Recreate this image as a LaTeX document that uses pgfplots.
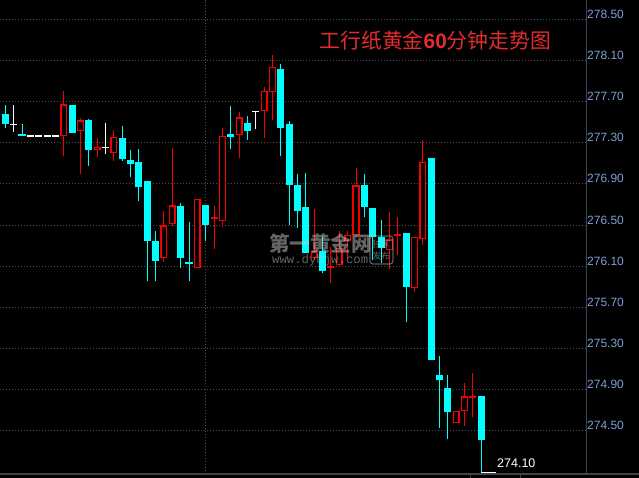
\documentclass[border=0pt]{standalone}
\usepackage{fontspec}
\setmainfont{Liberation Sans}
\newfontfamily\cjk{Noto Sans CJK SC}
\newfontfamily\mono{Liberation Mono}
\usepackage{pgfplots}
\usepackage{pgfplotstable}
\pgfplotsset{compat=1.18}
\definecolor{cred}{RGB}{245,0,0}
\definecolor{ccyan}{RGB}{0,255,255}
\definecolor{ticklab}{RGB}{125,160,215}
\definecolor{gridc}{RGB}{78,78,78}
\definecolor{axc}{RGB}{62,68,78}
\definecolor{titler}{RGB}{228,44,44}
\definecolor{wm}{RGB}{200,200,200}

% x = candle index, o h l c, t: 0 = up (red), 1 = down (cyan), 2 = unchanged (white)
\pgfplotstableread{
x o h l c t
0 277.489 277.541 277.489 277.541 0
1 277.580 277.667 277.447 277.485 1
2 277.480 277.667 277.408 277.480 2
3 277.388 277.483 277.366 277.366 1
4 277.366 277.366 277.366 277.366 2
5 277.366 277.366 277.366 277.366 2
6 277.366 277.366 277.366 277.366 2
7 277.366 277.366 277.366 277.366 2
8 277.369 277.803 277.175 277.667 0
9 277.667 277.667 277.398 277.398 1
10 277.417 277.541 277.000 277.512 0
11 277.521 277.531 277.074 277.230 1
12 277.237 277.347 277.162 277.256 0
13 277.256 277.492 277.194 277.256 2
14 277.208 277.424 277.126 277.353 0
15 277.347 277.463 277.126 277.145 1
16 277.136 277.230 276.970 277.097 1
17 277.113 277.240 276.737 276.873 1
18 276.929 276.929 275.960 276.348 1
19 276.346 276.443 275.960 276.154 1
20 276.183 276.637 276.144 276.491 0
21 276.518 277.249 276.491 276.686 0
22 276.686 276.712 276.086 276.183 1
23 276.141 276.530 275.960 276.122 1
24 276.090 276.751 276.090 276.751 0
25 276.695 276.695 276.348 276.504 1
26 276.570 276.686 276.271 276.574 0
27 276.543 277.444 276.485 277.363 0
28 277.385 277.657 277.242 277.356 1
29 277.379 277.599 277.155 277.541 0
30 277.492 277.560 277.330 277.417 1
31 277.606 277.606 277.434 277.606 2
32 277.612 277.842 277.349 277.800 0
33 277.796 278.153 277.524 278.034 0
34 278.017 278.066 277.175 277.447 1
35 277.483 277.512 276.504 276.893 1
36 276.890 276.997 276.475 276.640 1
37 276.676 277.006 276.232 276.232 1
38 276.187 276.657 276.161 276.239 0
39 276.248 276.394 276.032 276.057 1
40 276.094 276.290 275.940 276.098 0
41 276.119 276.443 276.096 276.275 0
42 276.352 276.443 276.180 276.401 0
43 276.411 277.055 276.381 276.880 0
44 276.893 276.997 276.582 276.679 1
45 276.666 276.666 276.161 276.387 1
46 276.381 276.550 276.135 276.275 1
47 276.265 276.627 276.071 276.355 0
48 276.399 276.576 276.212 276.403 0
49 276.423 276.423 275.561 275.901 1
50 275.896 276.381 275.853 276.381 0
51 276.372 277.327 276.307 277.110 0
52 277.152 277.152 275.192 275.192 1
53 275.043 275.228 274.531 274.998 1
54 274.917 275.043 274.421 274.687 1
55 274.580 274.691 274.580 274.691 0
56 274.700 274.963 274.551 274.830 0
57 274.826 275.060 274.632 274.828 0
58 274.839 274.839 274.100 274.415 1
}\candles

\begin{document}
\begin{tikzpicture}
\fill[black] (0,0) rectangle (639pt,478pt);
\useasboundingbox (0,0) rectangle (639pt,478pt);
\begin{axis}[at={(0,0)}, anchor=south west, scale only axis,
  width=639pt, height=478pt,
  xmin=0.3653, xmax=76.892, ymin=274.0423, ymax=278.6876,
  hide axis]

% horizontal dotted grid
\pgfplotsinvokeforeach{274.5,274.9,275.3,275.7,276.1,276.5,276.9,277.3,277.7,278.1,278.5}{
  \draw[gridc, line width=1pt, dash pattern=on 1pt off 2pt] (axis cs:0.3653,#1) -- (axis cs:70.545,#1);
}
% vertical dotted separator
\draw[gridc, line width=1pt, dash pattern=on 1pt off 2pt] (axis cs:24.95,274.0812) -- (axis cs:24.95,278.6876);

% candles
\pgfplotstablegetrowsof{\candles}
\pgfmathtruncatemacro{\lastrow}{\pgfplotsretval-1}
\pgfplotsforeachungrouped \i in {0,...,\lastrow}{%
  \pgfplotstablegetelem{\i}{x}\of\candles \let\cx\pgfplotsretval
  \pgfplotstablegetelem{\i}{o}\of\candles \let\co\pgfplotsretval
  \pgfplotstablegetelem{\i}{h}\of\candles \let\ch\pgfplotsretval
  \pgfplotstablegetelem{\i}{l}\of\candles \let\cl\pgfplotsretval
  \pgfplotstablegetelem{\i}{c}\of\candles \let\cc\pgfplotsretval
  \pgfplotstablegetelem{\i}{t}\of\candles \let\ct\pgfplotsretval
  \pgfmathsetmacro{\xa}{\cx-0.34}%
  \pgfmathsetmacro{\xb}{\cx+0.34}%
  \pgfmathsetmacro{\xc}{\cx-0.42}%
  \pgfmathsetmacro{\xd}{\cx+0.42}%
  \ifcase\ct\relax
    \edef\temp{\noexpand\addplot[draw=cred, line width=1pt] coordinates {(\cx,\cl) (\cx,\ch)};
      \noexpand\addplot[draw=cred, fill=black, line width=1.4pt] coordinates {(\xa,\co) (\xb,\co) (\xb,\cc) (\xa,\cc)} -- cycle;}%
  \or
    \edef\temp{\noexpand\addplot[draw=ccyan, line width=1pt] coordinates {(\cx,\cl) (\cx,\ch)};
      \noexpand\addplot[draw=none, fill=ccyan] coordinates {(\xc,\co) (\xd,\co) (\xd,\cc) (\xc,\cc)} -- cycle;}%
  \or
    \edef\temp{\noexpand\addplot[draw=white, line width=1pt] coordinates {(\cx,\cl) (\cx,\ch)};
      \noexpand\addplot[draw=white, line width=1.3pt] coordinates {(\xc,\co) (\xd,\co)};}%
  \fi
  \temp
}

% last-low marker
\addplot[draw=white, line width=1pt] coordinates {(58,274.100) (59.766,274.100)};
\node[anchor=base west, inner sep=0pt, text=white, font=\fontsize{12.5}{14}\selectfont] at (axis cs:59.886,274.1395) {274.10};

% right axis and bottom frame
\draw[axc, line width=1pt] (axis cs:70.545,274.0812) -- (axis cs:70.545,278.6876);
\draw[axc, line width=1.2pt] (axis cs:0.3653,274.0812) -- (axis cs:76.892,274.0812);
\draw[axc, line width=1pt] (axis cs:56.652,274.0812) -- (axis cs:56.652,274.0423);
\draw[axc, line width=1pt] (axis cs:62.64,274.0812) -- (axis cs:62.64,274.0423);

% tick labels
\foreach \v/\t in {274.5/274.50,274.9/274.90,275.3/275.30,275.7/275.70,276.1/276.10,276.5/276.50,276.9/276.90,277.3/277.30,277.7/277.70,278.1/278.10,278.5/278.50}{
  \edef\temp{\noexpand\node[anchor=base west, inner sep=0pt, text=ticklab, font=\noexpand\fontsize{12}{14}\noexpand\selectfont] at (axis cs:70.665,\v+0.0097) {\t};}
  \temp
}

% title
\node[anchor=base west, inner sep=0pt, text=titler, font=\cjk\fontsize{20.8}{24}\selectfont] at (axis cs:38.63,278.218) {工行纸黄金{\rmfamily\bfseries 60}分钟走势图};

% watermark
\node[anchor=base west, inner sep=0pt, text=wm, opacity=0.5, font=\cjk\bfseries\fontsize{20.5}{22}\selectfont] at (axis cs:32.60,276.2386) {第一黄金网};
\node[anchor=base west, inner sep=0pt, text=wm, opacity=0.5, font=\mono\fontsize{12.3}{14}\selectfont] at (axis cs:32.94,276.1268) {www.dyhjw.com};
\draw[wm, opacity=0.45, line width=1.2pt, rounded corners=3pt] (axis cs:44.677,276.394) rectangle (axis cs:47.43,276.122);
\node[inner sep=0pt, text=wm, opacity=0.5, font=\cjk\fontsize{9}{10}\selectfont] at (axis cs:46.05,276.316) {独家};
\node[inner sep=0pt, text=wm, opacity=0.5, font=\cjk\fontsize{9}{10}\selectfont] at (axis cs:46.05,276.200) {发布};
\end{axis}
\end{tikzpicture}
\end{document}
